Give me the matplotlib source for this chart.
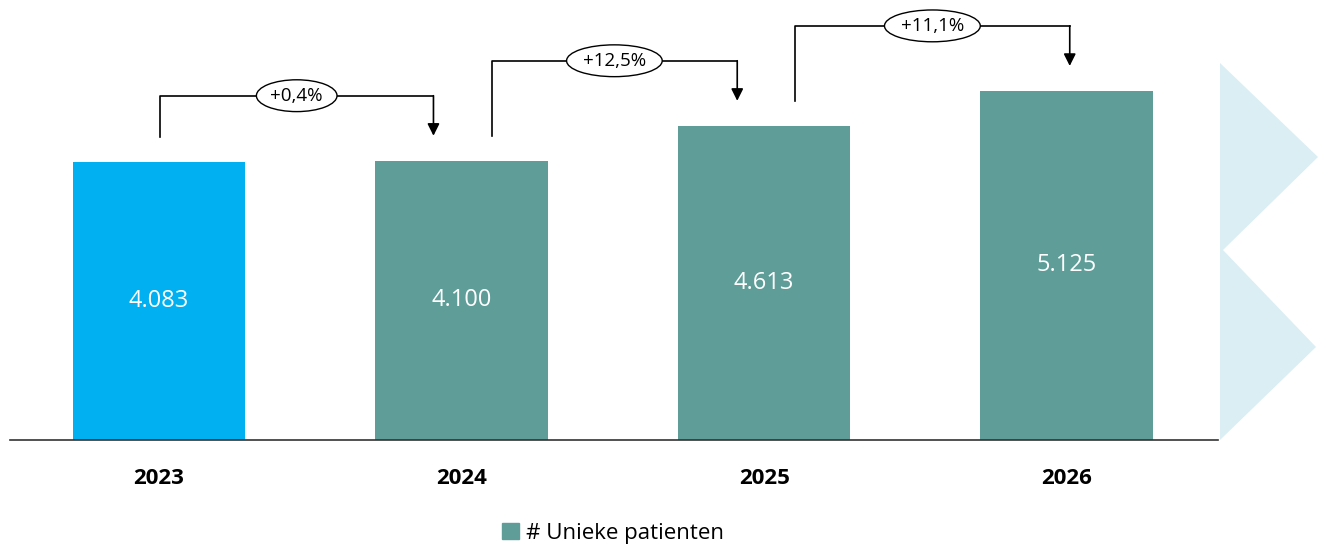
import matplotlib.pyplot as plt
from matplotlib.patches import Polygon, Patch

# data
jaren = ['2023', '2024', '2025', '2026']
patienten = [4083, 4100, 4613, 5125]
waarde_labels = ['4.083', '4.100', '4.613', '5.125']
groei = ['+0,4%', '+12,5%', '+11,1%']
kleuren = ['#00b0f0', '#5f9d99', '#5f9d99', '#5f9d99']

plt.rcParams['font.family'] = ['Open Sans', 'DejaVu Sans']

W, H = 1328, 546
fig = plt.figure(figsize=(W / 100, H / 100), dpi=100)
ax = fig.add_axes([10 / W, 106 / H, 1208 / W, 440 / H])

x = list(range(len(jaren)))
ax.bar(x, patienten, width=0.57, color=kleuren, zorder=2)
ax.set_xlim(-0.4926, 3.5)
ax.set_ylim(0, 6460)

for s in ['top', 'left', 'right']:
    ax.spines[s].set_visible(False)
ax.spines['bottom'].set_color('#333333')
ax.spines['bottom'].set_linewidth(1.2)
ax.set_yticks([])
ax.set_xticks(x)
ax.set_xticklabels(jaren, fontsize=16, fontweight='bold')
ax.tick_params(axis='x', length=0, pad=20)

# waarden in de balken
for xi, v, lab in zip(x, patienten, waarde_labels):
    ax.text(xi, v / 2, lab, ha='center', va='center', color='white', fontsize=17)

# groei-pijlen
gap = 367
rise = 955
dl = [0.003, 0.099, 0.102]
dr = [-0.093, -0.089, 0.010]
for i, lab in enumerate(groei):
    xs = x[i] + dl[i]
    xe = x[i + 1] + dr[i]
    y0 = patienten[i] + gap
    y1 = patienten[i + 1] + gap
    top = max(patienten[i], patienten[i + 1]) + rise
    ax.plot([xs, xs, xe], [y0, top, top], color='black', lw=1.2, zorder=3)
    ax.annotate('', xy=(xe, y1), xytext=(xe, top),
                arrowprops=dict(arrowstyle='-|>', color='black', lw=1.2,
                                mutation_scale=18, shrinkA=0, shrinkB=0))
    ax.text((xs + xe) / 2, top, lab, ha='center', va='center', fontsize=13.5,
            zorder=4,
            bbox=dict(boxstyle='ellipse,pad=0.12', fc='white', ec='black', lw=1.0))

# decoratieve chevron rechts
pts = [(1220, 63), (1318, 157), (1223, 250), (1316, 347), (1220, 440)]
fig.add_artist(Polygon([(px / W, 1 - py / H) for px, py in pts], closed=True,
                       transform=fig.transFigure, fc='#dbeef3', ec='none'))

# legenda
fig.legend(handles=[Patch(color='#5f9d99', label='# Unieke patienten')],
           loc='center', bbox_to_anchor=(613 / W, 1 - 533 / H), frameon=False,
           fontsize=16, handlelength=0.75, handleheight=0.75, handletextpad=0.3)

fig.savefig('out.png', dpi=100)
